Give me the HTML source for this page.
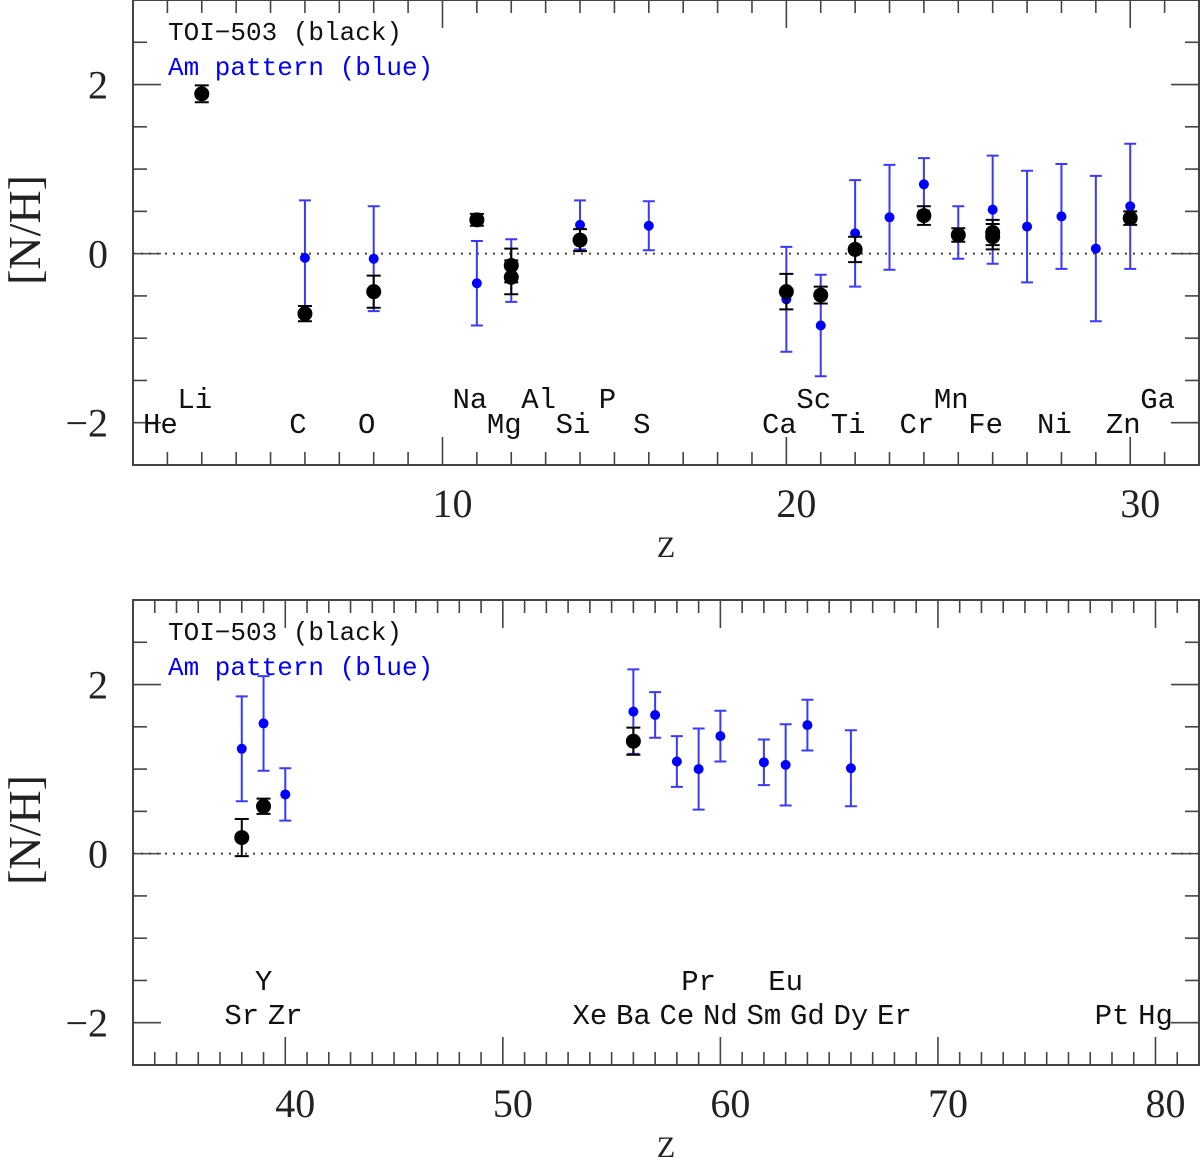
<!DOCTYPE html>
<html><head><meta charset="utf-8"><style>
html,body{margin:0;padding:0;background:#fff;}
svg{display:block;font-family:"Liberation Serif",serif;}
.mono{font-family:"Liberation Mono",monospace;}
</style></head><body>
<svg id="chart" width="1200" height="1158" viewBox="0 0 1200 1158"></svg>
<script>
// ---- data: top panel (light elements) ----
const topBlackZ   = [3, 6, 8, 11, 12, 12, 14, 20, 21, 22, 24, 25, 26, 26, 30];
const topBlackVal = [1.89, -0.71, -0.45, 0.40, -0.14, -0.28, 0.16, -0.45, -0.49, 0.05, 0.45, 0.22, 0.25, 0.20, 0.42];
const topBlackErr = [0.10, 0.09, 0.19, 0.07, 0.20, 0.20, 0.13, 0.21, 0.10, 0.15, 0.11, 0.08, 0.15, 0.15, 0.08];
const topBlueZ    = [6, 8, 11, 12, 14, 16, 20, 21, 22, 23, 24, 25, 26, 27, 28, 29, 30];
const topBlueVal  = [-0.05, -0.06, -0.35, -0.20, 0.34, 0.33, -0.54, -0.85, 0.24, 0.43, 0.82, 0.25, 0.52, 0.32, 0.44, 0.06, 0.56];
const topBlueErr  = [0.68, 0.62, 0.50, 0.37, 0.29, 0.29, 0.62, 0.60, 0.63, 0.62, 0.31, 0.31, 0.64, 0.66, 0.62, 0.86, 0.74];
const topLabels   = ["He","Li","C","O","Na","Mg","Al","Si","P","S","Ca","Sc","Ti","Cr","Mn","Fe","Ni","Zn","Ga"];
const topLabelZ   = [2, 3, 6, 8, 11, 12, 13, 14, 15, 16, 20, 21, 22, 24, 25, 26, 28, 30, 31];
const topLabelRow = [2, 1, 2, 2, 1, 2, 1, 2, 1, 2, 2, 1, 2, 2, 1, 2, 2, 2, 1];
const topXTicks   = [10, 20, 30];
// ---- data: bottom panel (heavy elements) ----
const botBlackZ   = [38, 39, 56];
const botBlackVal = [0.19, 0.56, 1.33];
const botBlackErr = [0.22, 0.09, 0.16];
const botBlueZ    = [38, 39, 40, 56, 57, 58, 59, 60, 62, 63, 64, 66];
const botBlueVal  = [1.24, 1.54, 0.70, 1.68, 1.64, 1.09, 1.00, 1.39, 1.08, 1.05, 1.52, 1.01];
const botBlueErr  = [0.62, 0.56, 0.31, 0.50, 0.27, 0.30, 0.48, 0.30, 0.27, 0.48, 0.30, 0.45];
const botLabels   = ["Sr","Y","Zr","Xe","Ba","Ce","Pr","Nd","Sm","Eu","Gd","Dy","Er","Pt","Hg"];
const botLabelZ   = [38, 39, 40, 54, 56, 58, 59, 60, 62, 63, 64, 66, 68, 78, 80];
const botLabelRow = [2, 1, 2, 2, 2, 2, 1, 2, 2, 1, 2, 2, 2, 2, 2];
const botXTicks   = [40, 50, 60, 70, 80];
const yTicks      = [-2, 0, 2];

const svg = document.getElementById('chart');
const NS = 'http://www.w3.org/2000/svg';
function mk(tag, attrs, parent){
  const e = document.createElementNS(NS, tag);
  for (const k in attrs) e.setAttribute(k, attrs[k]);
  (parent||svg).appendChild(e);
  return e;
}

function panel(cfg){
  const {top, zmin, zmax, name} = cfg;
  const L = 133, R = 1199, H = 465, B = top + H;
  const ymin = -2.5, ymax = 3.0;
  const xs = z => L + (z - zmin) / (zmax - zmin) * (R - L);
  const ys = v => B - (v - ymin) / (ymax - ymin) * H;
  const g = mk('g', {});
  
  
  const frame = mk('rect', {x:L, y:top, width:R-L, height:H, fill:'none', stroke:'#444', 'stroke-width':2}, g);
  
  
  for (let z = Math.ceil(zmin); z <= Math.floor(zmax); z++){
    const major = z % 10 === 0;
    const len = major ? 28 : 13;
    const x = xs(z);
    const t1 = mk('line', {x1:x, x2:x, y1:B, y2:B-len, stroke:'#444', 'stroke-width':1.6}, g);
    
    
    const t2 = mk('line', {x1:x, x2:x, y1:top, y2:top+len, stroke:'#444', 'stroke-width':1.6}, g);
    
    
  }
  for (let v = -2; v <= 3.001; v += 0.5){
    const major = Math.abs(v % 2) < 1e-6;
    const len = major ? 28 : 14;
    const y = ys(v);
    const t1 = mk('line', {x1:L, x2:L+len, y1:y, y2:y, stroke:'#444', 'stroke-width':1.6}, g);
    
    
    const t2 = mk('line', {x1:R, x2:R-len, y1:y, y2:y, stroke:'#444', 'stroke-width':1.6}, g);
    
    
  }
  yTicks.forEach(v => {
    const t = mk('text', {x:108, y:ys(v)+14, 'font-size':40, 'text-anchor':'end', fill:'#222'}, g);
    t.textContent = v < 0 ? '\u2212' + Math.abs(v) : String(v);
    
    
  });
  cfg.xTicks.forEach(z => {
    const t = mk('text', {x:xs(z)+10, y:B+52, 'font-size':40, 'text-anchor':'middle', fill:'#222'}, g);
    t.textContent = String(z);
    
    
  });
  const xt = mk('text', {x:666, y:B+92, 'font-size':30, 'text-anchor':'middle', fill:'#222'}, g);
  xt.textContent = 'Z';
  
  
  const yt = mk('text', {x:0, y:0, 'font-size':46, 'text-anchor':'middle', fill:'#222',
    transform:'translate(40,'+(top+230)+') rotate(-90)'}, g);
  yt.textContent = '[N/H]';
  
  
  const zl = mk('line', {x1:L, x2:R, y1:ys(0), y2:ys(0), stroke:'#444', 'stroke-width':2, 'stroke-dasharray':'2 6'}, g);
  
  
  const l1 = mk('text', {x:168, y:top+40, 'font-size':26, fill:'#111', class:'mono'}, g);
  l1.textContent = 'TOI\u2212503 (black)';
  
  
  const l2 = mk('text', {x:168, y:top+75, 'font-size':26, fill:'#0000ff', class:'mono'}, g);
  l2.textContent = 'Am pattern (blue)';
  
  
  cfg.labels.forEach((s, i) => {
    const y = cfg.labelRow[i] === 1 ? top + cfg.row1 : top + cfg.row2;
    const t = mk('text', {x:xs(cfg.labelZ[i]) + cfg.labelDx, y:y, 'font-size':29, 'text-anchor':'middle', fill:'#111', class:'mono'}, g);
    t.textContent = s;
    
    
  });
  function series(Z, V, E, color, dot, r, cap, sname){
    Z.forEach((z, i) => {
      const x = xs(z), y = ys(V[i]);
      const y1 = ys(V[i] + E[i]), y2 = ys(V[i] - E[i]);
      const eb = mk('path', {d:`M${x},${y1}V${y2}M${x-cap},${y1}H${x+cap}M${x-cap},${y2}H${x+cap}`,
        stroke:color, 'stroke-width':2, fill:'none'}, g);
      
      
      const c = mk('circle', {cx:x, cy:y, r:r, fill:dot}, g);
      
      
    });
  }
  series(cfg.blueZ, cfg.blueVal, cfg.blueErr, '#3a3aff', '#0000ff', 5, 6, 'am-pattern');
  series(cfg.blackZ, cfg.blackVal, cfg.blackErr, '#000', '#000', 7.5, 7, 'toi-503');
}

panel({name:'light-elements', top:0, zmin:1, zmax:32, xTicks:topXTicks,
  labels:topLabels, labelZ:topLabelZ, labelRow:topLabelRow, labelDx:-7, row1:408, row2:433,
  blackZ:topBlackZ, blackVal:topBlackVal, blackErr:topBlackErr,
  blueZ:topBlueZ, blueVal:topBlueVal, blueErr:topBlueErr});
panel({name:'heavy-elements', top:600, zmin:33, zmax:82, xTicks:botXTicks,
  labels:botLabels, labelZ:botLabelZ, labelRow:botLabelRow, labelDx:0, row1:390, row2:424,
  blackZ:botBlackZ, blackVal:botBlackVal, blackErr:botBlackErr,
  blueZ:botBlueZ, blueVal:botBlueVal, blueErr:botBlueErr});
</script>
</body></html>
